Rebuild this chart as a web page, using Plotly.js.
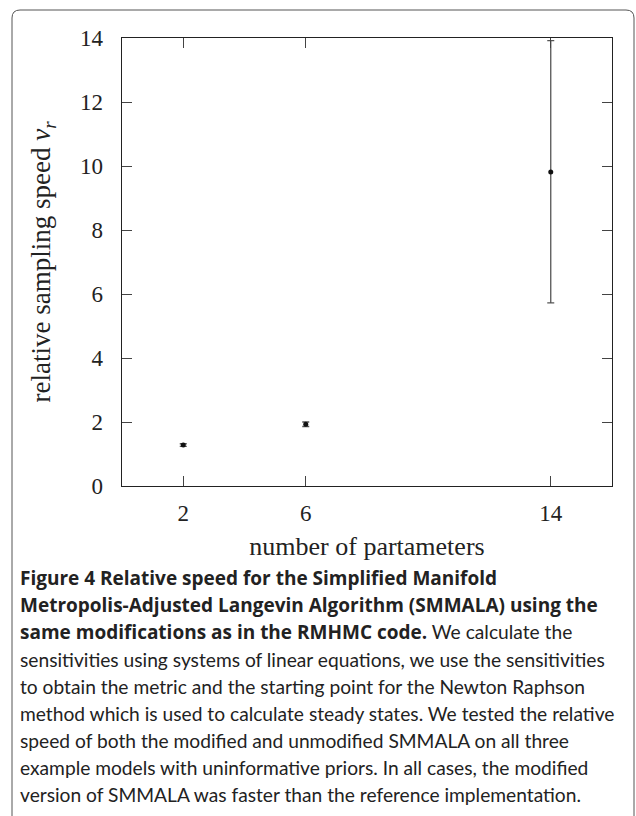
<!DOCTYPE html>
<html><head><meta charset="utf-8">
<script src="https://cdn.plot.ly/plotly-3.0.1.min.js"></script>
<style>html,body{margin:0;padding:0;background:#fff;}#chart{width:636px;height:816px;}</style>
</head><body><div id="chart"></div>
<script>
// Data
const params = [2, 6, 14];
const speed = [1.28, 1.93, 9.81];
const errPlus = [0.04, 0.07, 4.11];
const errMinus = [0.04, 0.07, 4.09];
const xTicks = [2, 6, 14];
const yTicks = [0, 2, 4, 6, 8, 10, 12, 14];
const xTitle = 'number of partameters';
const yTitle = 'relative sampling speed <i>v<sub>r</sub></i>';
const B = s => '<span style="font-family:\'Open Sans\';font-weight:bold;font-size:19px">' + s + '</span>';
const captionLines = [
  B('Figure 4 Relative speed for the Simplified Manifold'),
  B('Metropolis-Adjusted Langevin Algorithm (SMMALA) using the'),
  B('same modifications as in the RMHMC code.') + ' We calculate the',
  'sensitivities using systems of linear equations, we use the sensitivities',
  'to obtain the metric and the starting point for the Newton Raphson',
  'method which is used to calculate steady states. We tested the relative',
  'speed of both the modified and unmodified SMMALA on all three',
  'example models with uninformative priors. In all cases, the modified',
  'version of SMMALA was faster than the reference implementation.'
];

const W = 636, H = 816, ML = 122, MR = 24, MT = 38, MB = 330;
const PW = W - ML - MR, PH = H - MT - MB;
const px = v => (v - ML) / PW;
const py = v => (H - MB - v) / PH;

const serif = 'Liberation Serif, DejaVu Serif, serif';
const sans = 'Lato, Open Sans, sans-serif';

const trace = {
  x: params, y: speed, type: 'scatter', mode: 'markers',
  marker: {color: '#111', size: 5},
  error_y: {type: 'data', symmetric: false, array: errPlus, arrayminus: errMinus,
    color: '#555', thickness: 1.3, width: 3.5},
  showlegend: false, hoverinfo: 'skip'
};

const annotations = captionLines.map((t, i) => ({
  xref: 'paper', yref: 'paper', x: px(18), y: py(578 + i * 27),
  xanchor: 'left', yanchor: 'middle', showarrow: false, align: 'left',
  text: t, font: {family: sans, size: 19.2, color: '#222'}
}));

const borderPath = `M ${px(12)} ${py(830)} L ${px(12)} ${py(18)} Q ${px(12)} ${py(10)} ${px(20)} ${py(10)} L ${px(626)} ${py(10)} Q ${px(634)} ${py(10)} ${px(634)} ${py(18)} L ${px(634)} ${py(830)}`;

const axisCommon = {
  showgrid: false, zeroline: false, showline: true, linecolor: '#222', linewidth: 1.3,
  mirror: 'ticks', ticks: 'inside', ticklen: 10, tickcolor: '#444', tickwidth: 1,
  tickfont: {family: serif, size: 23, color: '#222'}
};

const layout = {
  width: W, height: H,
  margin: {l: ML, r: MR, t: MT, b: MB},
  paper_bgcolor: '#fff', plot_bgcolor: '#fff',
  xaxis: Object.assign({}, axisCommon, {
    range: [0, 16], tickvals: xTicks, ticktext: xTicks.map(String),
    ticklabelstandoff: 6,
    title: {text: xTitle, font: {family: serif, size: 26, color: '#222'}, standoff: 12}
  }),
  yaxis: Object.assign({}, axisCommon, {
    range: [0, 14], tickvals: yTicks, ticktext: yTicks.map(String),
    ticklabelstandoff: 13,
    title: {text: yTitle, font: {family: serif, size: 27, color: '#222'}, standoff: 21}
  }),
  shapes: [{type: 'path', xref: 'paper', yref: 'paper', path: borderPath,
    line: {color: '#555', width: 1}, layer: 'above'}],
  annotations: annotations
};

Plotly.newPlot('chart', [trace], layout, {staticPlot: true, displayModeBar: false});
</script>
</body></html>
